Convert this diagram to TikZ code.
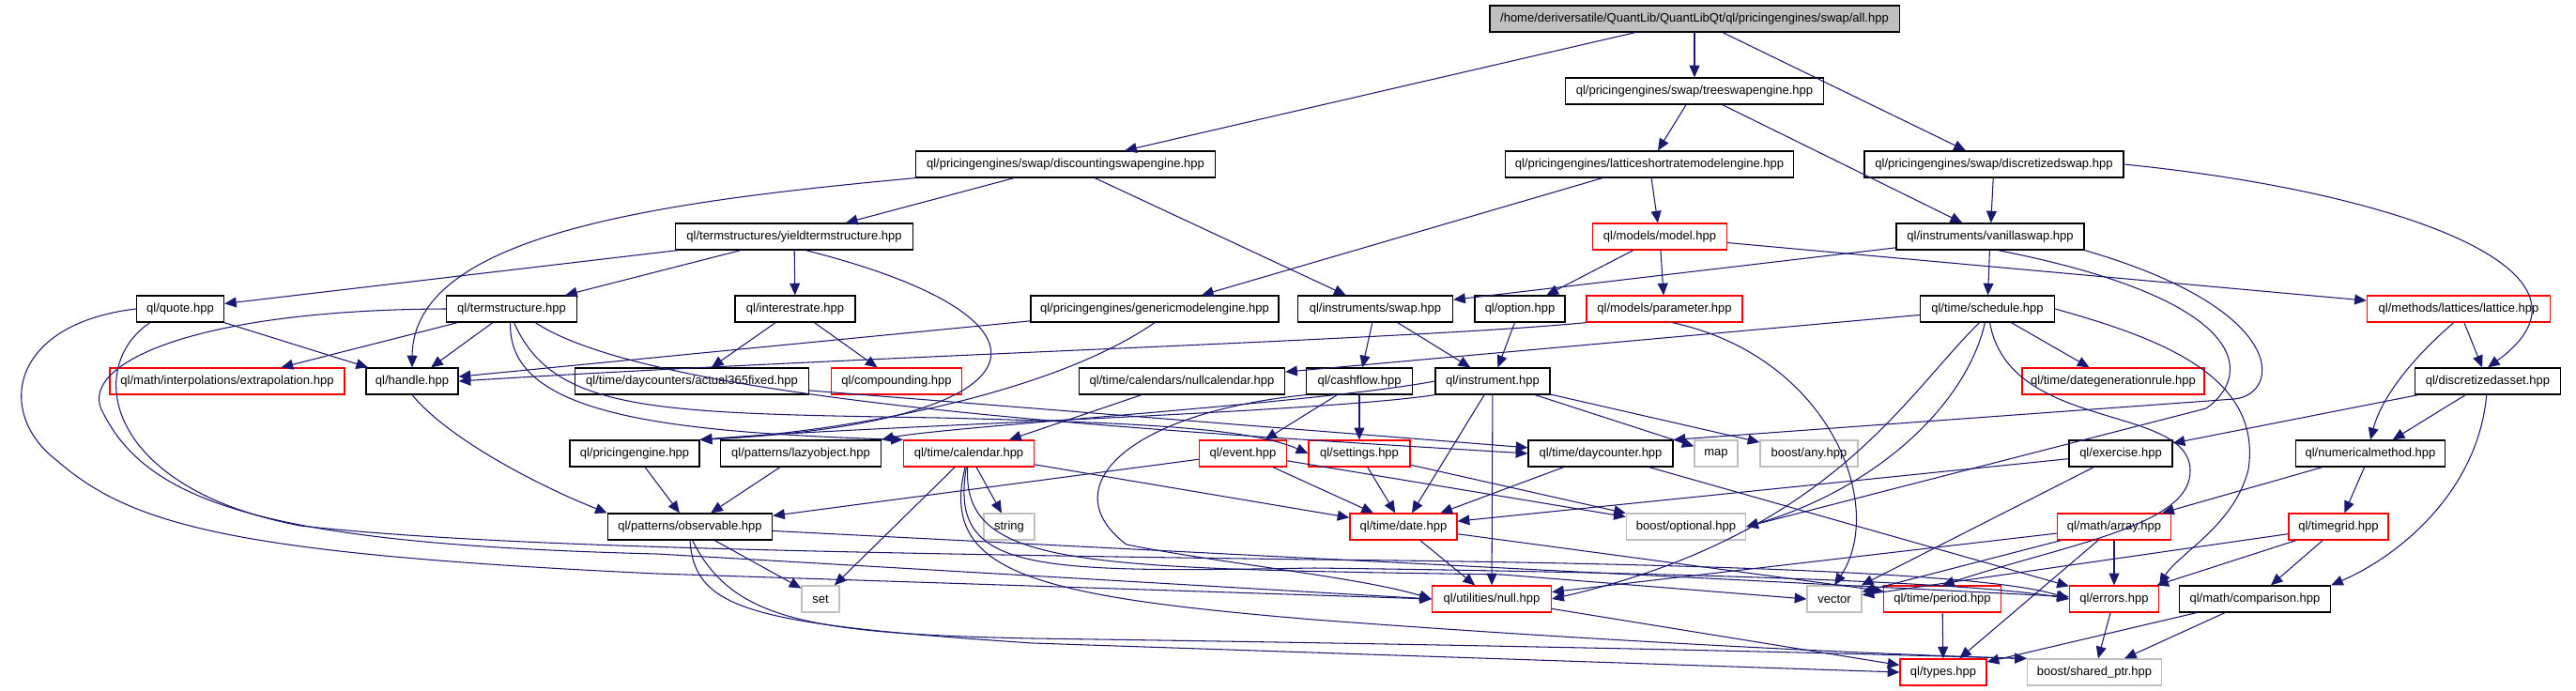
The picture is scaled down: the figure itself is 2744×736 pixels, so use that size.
\documentclass[tikz,border=0pt]{standalone}
\usepackage{fontspec}
\setmainfont{Liberation Sans}
\usepackage{tikz}
\usetikzlibrary{arrows.meta}
\definecolor{edgeblue}{RGB}{25,25,112}
\definecolor{nodocred}{RGB}{255,0,0}
\definecolor{sysgray}{RGB}{191,191,191}
\tikzset{
  hdr/.style={draw=black, line width=0.35pt, inner sep=0pt, minimum height=0.28cm, font=\fontsize{3.7pt}{4pt}\selectfont},
  nodoc/.style={hdr, draw=nodocred},
  sysinc/.style={hdr, draw=sysgray},
  rootbox/.style={hdr, fill=sysgray},
  dep/.style={-{Triangle[length=3.6pt,width=3.1pt]}, draw=edgeblue, line width=0.3pt},
}

\begin{document}
\begin{tikzpicture}[x=0.01cm, y=-0.01cm]
  \useasboundingbox (0,0) rectangle (2744,736);
  % headers, one row per rank
  \node[rootbox, minimum width=4.36cm] (all) at (1805,20) {/home/deriversatile/QuantLib/QuantLibQt/ql/pricingengines/swap/all.hpp};
  \node[hdr, minimum width=2.75cm] (treeswap) at (1805,97) {ql/pricingengines/swap/treeswapengine.hpp};
  \node[hdr, minimum width=3.19cm] (discounting) at (1135,175) {ql/pricingengines/swap/discountingswapengine.hpp};
  \node[hdr, minimum width=3.07cm] (latticeshort) at (1757,175) {ql/pricingengines/latticeshortratemodelengine.hpp};
  \node[hdr, minimum width=2.76cm] (discswap) at (2124,175) {ql/pricingengines/swap/discretizedswap.hpp};
  \node[hdr, minimum width=2.53cm] (yieldts) at (846,252) {ql/termstructures/yieldtermstructure.hpp};
  \node[nodoc, minimum width=1.43cm] (model) at (1768,252) {ql/models/model.hpp};
  \node[hdr, minimum width=2.00cm] (vanilla) at (2120,252) {ql/instruments/vanillaswap.hpp};
  \node[hdr, minimum width=0.93cm] (quote) at (192,329) {ql/quote.hpp};
  \node[hdr, minimum width=1.39cm] (termstruct) at (545,329) {ql/termstructure.hpp};
  \node[hdr, minimum width=1.28cm] (interest) at (847,329) {ql/interestrate.hpp};
  \node[hdr, minimum width=2.64cm] (genericeng) at (1230,329) {ql/pricingengines/genericmodelengine.hpp};
  \node[hdr, minimum width=1.65cm] (swap) at (1465,329) {ql/instruments/swap.hpp};
  \node[hdr, minimum width=0.96cm] (option) at (1619,329) {ql/option.hpp};
  \node[nodoc, minimum width=1.66cm] (parameter) at (1773,329) {ql/models/parameter.hpp};
  \node[hdr, minimum width=1.43cm] (schedule) at (2117,329) {ql/time/schedule.hpp};
  \node[nodoc, minimum width=1.95cm] (lattice) at (2619,329) {ql/methods/lattices/lattice.hpp};
  \node[nodoc, minimum width=2.50cm] (extrap) at (242,406) {ql/math/interpolations/extrapolation.hpp};
  \node[hdr, minimum width=0.98cm] (handle) at (439,406) {ql/handle.hpp};
  \node[hdr, minimum width=2.49cm] (act365) at (737,406) {ql/time/daycounters/actual365fixed.hpp};
  \node[nodoc, minimum width=1.39cm] (compounding) at (955,406) {ql/compounding.hpp};
  \node[hdr, minimum width=2.19cm] (nullcal) at (1259,406) {ql/time/calendars/nullcalendar.hpp};
  \node[hdr, minimum width=1.13cm] (cashflow) at (1448,406) {ql/cashflow.hpp};
  \node[hdr, minimum width=1.22cm] (instrument) at (1590,406) {ql/instrument.hpp};
  \node[nodoc, minimum width=1.94cm] (dategen) at (2251,406) {ql/time/dategenerationrule.hpp};
  \node[hdr, minimum width=1.55cm] (discasset) at (2650,406) {ql/discretizedasset.hpp};
  \node[hdr, minimum width=1.38cm] (pricingeng) at (676,483) {ql/pricingengine.hpp};
  \node[hdr, minimum width=1.71cm] (lazyobj) at (853,483) {ql/patterns/lazyobject.hpp};
  \node[nodoc, minimum width=1.39cm] (calendar) at (1032,483) {ql/time/calendar.hpp};
  \node[nodoc, minimum width=0.93cm] (event) at (1324,483) {ql/event.hpp};
  \node[nodoc, minimum width=1.08cm] (settings) at (1448,483) {ql/settings.hpp};
  \node[hdr, minimum width=1.54cm] (daycounter) at (1705,483) {ql/time/daycounter.hpp};
  \node[sysinc, minimum width=0.46cm] (map) at (1828,483) {map};
  \node[sysinc, minimum width=1.04cm] (any) at (1927,483) {boost/any.hpp};
  \node[hdr, minimum width=1.10cm] (exercise) at (2259,483) {ql/exercise.hpp};
  \node[hdr, minimum width=1.59cm] (nummethod) at (2525,483) {ql/numericalmethod.hpp};
  \node[hdr, minimum width=1.75cm] (observable) at (735,561) {ql/patterns/observable.hpp};
  \node[sysinc, minimum width=0.54cm] (string) at (1075,561) {string};
  \node[nodoc, minimum width=1.14cm] (date) at (1495,561) {ql/time/date.hpp};
  \node[sysinc, minimum width=1.27cm] (optional) at (1796,561) {boost/optional.hpp};
  \node[nodoc, minimum width=1.21cm] (array) at (2252,561) {ql/math/array.hpp};
  \node[nodoc, minimum width=1.06cm] (timegrid) at (2491,561) {ql/timegrid.hpp};
  \node[sysinc, minimum width=0.40cm] (set) at (874,638) {set};
  \node[nodoc, minimum width=1.27cm] (null) at (1589,638) {ql/utilities/null.hpp};
  \node[sysinc, minimum width=0.58cm] (vector) at (1954,638) {vector};
  \node[nodoc, minimum width=1.25cm] (period) at (2069,638) {ql/time/period.hpp};
  \node[nodoc, minimum width=0.95cm] (errors) at (2252,638) {ql/errors.hpp};
  \node[hdr, minimum width=1.61cm] (comparison) at (2402,638) {ql/math/comparison.hpp};
  \node[nodoc, minimum width=0.92cm] (types) at (2070,716) {ql/types.hpp};
  \node[sysinc, minimum width=1.43cm] (sharedptr) at (2231,716) {boost/shared\_ptr.hpp};

  % top of the graph
  \draw[dep] (all) -- (discounting);
  \draw[dep] (all) -- (treeswap);
  \draw[dep] (all) -- (discswap);
  \draw[dep] (treeswap) -- (latticeshort);
  \draw[dep] (treeswap) -- (vanilla);
  \draw[dep] (discounting) -- (yieldts);
  \draw[dep] (discounting) -- (swap);
  \draw[dep] (discounting.south west) .. controls (700,215) and (440,250) .. (handle.north);
  \draw[dep] (latticeshort) -- (genericeng);
  \draw[dep] (latticeshort) -- (model);
  \draw[dep] (discswap) -- (vanilla);
  \draw[dep] (discswap.east) .. controls (2560,205) and (2790,290) .. (discasset.north);
  \draw[dep] (yieldts) -- (quote);
  \draw[dep] (yieldts) -- (termstruct);
  \draw[dep] (yieldts) -- (interest);
  \draw[dep] (yieldts.-50) .. controls (1150,340) and (1120,450) .. (pricingeng.north east);
  \draw[dep] (model) -- (option);
  \draw[dep] (model) -- (parameter);
  \draw[dep] (model) -- (lattice);
  \draw[dep] (vanilla) -- (swap);
  \draw[dep] (vanilla) -- (schedule);
  \draw[dep] (vanilla.south east) .. controls (2440,330) and (2430,420) .. (2380,425) -- (daycounter.north east);
  \draw[dep] (vanilla.-60) .. controls (2400,320) and (2400,400) .. (2350,435) -- (optional.east);
  % quote and term structure
  \draw[dep] (quote) -- (handle);
  \draw[dep] (quote.west) .. controls (10,345) and (-5,440) .. (60,490) .. controls (140,560) and (250,590) .. (700,611) -- (null.west);
  \draw[dep] ([xshift=0.15cm]quote.south west) .. controls (90,390) and (110,520) .. (320,560) .. controls (500,580) and (800,588) .. (1400,596) .. controls (2000,602) and (2150,620) .. (errors.west);
  \draw[dep] (termstruct.west) .. controls (200,330) and (80,390) .. (110,440) .. controls (160,540) and (300,580) .. (700,590) -- (null.west);
  \draw[dep] (termstruct) -- (extrap);
  \draw[dep] (termstruct) -- (handle);
  \draw[dep] (termstruct.-95) .. controls (540,440) and (700,460) .. (calendar.north west);
  \draw[dep] (termstruct.-80) .. controls (590,440) and (700,440) .. (1000,445) .. controls (1200,450) and (1330,455) .. (settings.west);
  \draw[dep] (termstruct.-30) .. controls (700,430) and (1250,460) .. (daycounter.west);
  \draw[dep] (interest) -- (act365);
  \draw[dep] (interest) -- (compounding);
  \draw[dep] (act365) -- (daycounter);
  % engines and instruments
  \draw[dep] (genericeng) -- (handle);
  \draw[dep] (genericeng.south) .. controls (1120,420) and (900,460) .. (pricingeng.north east);
  \draw[dep] (swap) -- (cashflow);
  \draw[dep] (swap) -- (instrument);
  \draw[dep] (option) -- (instrument);
  \draw[dep] (parameter.south west) .. controls (1500,362) and (900,380) .. (handle.east);
  \draw[dep] (parameter.-60) .. controls (1950,380) and (2010,540) .. (vector.north);
  \draw[dep] (schedule) -- (nullcal);
  \draw[dep] (schedule) -- (dategen);
  \draw[dep] (schedule.-120) .. controls (2030,420) and (1950,570) .. (null.east);
  \draw[dep] (schedule.-100) .. controls (2095,430) and (2000,520) .. (optional.east);
  \draw[dep] (schedule.-80) .. controls (2140,460) and (2330,430) .. (2333,500) .. controls (2336,560) and (2200,580) .. (period.north);
  \draw[dep] (schedule.east) .. controls (2300,360) and (2410,400) .. (2395,500) .. controls (2380,560) and (2320,590) .. (errors.north east);
  \draw[dep] (lattice) -- (discasset);
  \draw[dep] (lattice.-110) .. controls (2560,390) and (2535,430) .. (nummethod.north);
  \draw[dep] (discasset) -- (nummethod);
  \draw[dep] (discasset) -- (exercise);
  \draw[dep] (discasset.-95) .. controls (2640,520) and (2560,590) .. (comparison.north east);
  \draw[dep] (instrument) -- (null);
  \draw[dep] (instrument) -- (date);
  \draw[dep] (instrument) -- (map);
  \draw[dep] (instrument) -- (any);
  \draw[dep] (instrument.west) .. controls (1400,430) and (1000,455) .. (lazyobj.north east);
  \draw[dep] (instrument.south west) .. controls (1400,440) and (900,455) .. (pricingeng.north east);
  \draw[dep] (cashflow) -- (event);
  \draw[dep] (cashflow) -- (settings);
  \draw[dep] (cashflow.south west) .. controls (1200,440) and (1120,520) .. (1200,580) .. controls (1300,600) and (1450,615) .. (null.west);
  % time and patterns
  \draw[dep] (nullcal) -- (calendar);
  \draw[dep] (calendar) -- (date);
  \draw[dep] (calendar) -- (string);
  \draw[dep] (calendar) -- (set);
  \draw[dep] (calendar.-100) .. controls (1010,610) and (1100,610) .. (1400,605) .. controls (1800,610) and (2100,620) .. (errors.west);
  \draw[dep] (calendar.-95) .. controls (1025,605) and (1150,605) .. (1600,612) -- (vector.west);
  \draw[dep] (calendar.-105) .. controls (1000,610) and (1100,635) .. (1400,660) .. controls (1800,690) and (2100,700) .. (sharedptr.north west);
  \draw[dep] (event) -- (date);
  \draw[dep] (event) -- (observable);
  \draw[dep] (event) -- (optional);
  \draw[dep] (settings) -- (date);
  \draw[dep] (settings) -- (optional);
  \draw[dep] (daycounter) -- (date);
  \draw[dep] (daycounter) -- (errors);
  \draw[dep] (pricingeng) -- (observable);
  \draw[dep] (lazyobj) -- (observable);
  \draw[dep] (handle.south) .. controls (480,470) and (580,520) .. (observable.north west);
  \draw[dep] (observable) -- (set);
  \draw[dep] (observable) -- (errors);
  \draw[dep] (observable.south) .. controls (740,650) and (800,665) .. (1100,685) -- (types.west);
  \draw[dep] (observable.-80) .. controls (780,660) and (860,675) .. (1100,680) .. controls (1800,690) and (2100,700) .. (sharedptr.north west);
  % math and low level
  \draw[dep] (exercise) -- (date);
  \draw[dep] (exercise) -- (vector);
  \draw[dep] (nummethod) -- (array);
  \draw[dep] (nummethod) -- (timegrid);
  \draw[dep] (array) -- (types);
  \draw[dep] (array) -- (errors);
  \draw[dep] (array) -- (vector);
  \draw[dep] (array) -- (null);
  \draw[dep] (timegrid) -- (errors);
  \draw[dep] (timegrid) -- (comparison);
  \draw[dep] (timegrid) -- (vector);
  \draw[dep] (date) -- (null);
  \draw[dep] (date) -- (period);
  \draw[dep] (comparison) -- (types);
  \draw[dep] (comparison) -- (sharedptr);
  \draw[dep] (errors) -- (sharedptr);
  \draw[dep] (period) -- (types);
  \draw[dep] (null) -- (types);
\end{tikzpicture}
\end{document}
